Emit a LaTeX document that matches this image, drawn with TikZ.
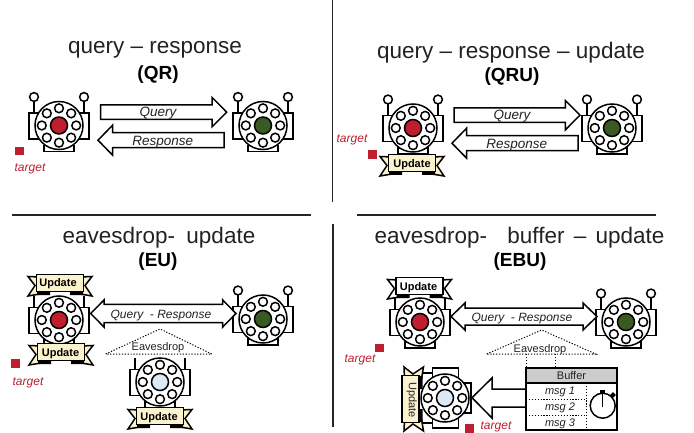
\documentclass[tikz,border=0pt]{standalone}
\usepackage{fontspec}
\setmainfont{Liberation Sans}
\definecolor{tred}{HTML}{BE1E2D}
\definecolor{tgreen}{HTML}{3A5A24}
\definecolor{tblue}{HTML}{DDE9F5}
\definecolor{cream}{HTML}{FBF3CE}
\definecolor{hdr}{HTML}{CCCCCC}
\definecolor{ink}{HTML}{222222}
\tikzset{
  ln/.style={draw=black,line width=1.5pt,line join=miter},
  dots/.style={draw=black,line width=1pt,dash pattern=on 1.2pt off 1.7pt},
  title/.style={font=\fontsize{22.5}{26}\selectfont,text=ink,inner sep=0pt,yshift=-3pt},
  subtitle/.style={font=\fontsize{19}{23}\selectfont\bfseries,text=black,inner sep=0pt,yshift=-2pt},
  lab/.style={font=\fontsize{13.5}{16}\selectfont\itshape,text=ink,inner sep=0pt,yshift=-1.5pt},
  labs/.style={font=\fontsize{12}{14}\selectfont\itshape,text=ink,inner sep=0pt,yshift=-1.5pt},
  small/.style={font=\fontsize{11}{13}\selectfont,text=ink,inner sep=0pt,yshift=-1.5pt},
  upd/.style={font=\fontsize{11}{13}\selectfont\bfseries,text=black,inner sep=0pt,yshift=-1.2pt},
  msg/.style={font=\fontsize{11}{13}\selectfont\itshape,text=ink,inner sep=0pt,yshift=-1pt},
  tgt/.style={font=\fontsize{12}{14}\selectfont\itshape,text=tred,inner sep=0pt,yshift=-2pt},
  sq/.style={fill=tred,draw=none},
  robot/.pic={
    \draw[ln,fill=white] (-30,-12.5) rectangle (30,13.5);
    \draw[ln,fill=white] (-15,20) rectangle (15,26);
    \draw[ln] (-25,-24) -- (-25,-12.5) (25,-24) -- (25,-12.5);
    \draw[ln,fill=white] (0,0) circle (24);
    \foreach \a in {0,45,...,315} \draw[ln,fill=white] (\a:17.2) circle (4.4);
    \draw[ln,fill=#1] (0,0) circle (8.5);
  },
  antennae/.pic={
    \draw[ln,fill=white] (-25,-28.5) circle (4.4);
    \draw[ln,fill=white] (25,-28.5) circle (4.4);
  },
  banner/.pic={
    \draw[ln,fill=#1] (-20,-6) -- (-32,-6.5) -- (-25,2.5) -- (-32,13) -- (-20,11) -- cycle;
    \draw[ln,fill=#1] (20,-6) -- (32,-6.5) -- (25,2.5) -- (32,13) -- (20,11) -- cycle;
    \fill[black] (-23,8) rectangle (-10,12) (23,8) rectangle (10,12);
    \draw[ln,fill=#1] (-23.5,-8.5) rectangle (23.5,8.5);
  },
}
\newcommand{\garrowR}[6]{\draw[ln,fill=white] (#1,#3) -- (#5,#3) -- (#5,#3-7.6) -- (#2,#3/2+#4/2) -- (#5,#4+7.6) -- (#5,#4) -- (#1,#4) -- cycle;}
\newcommand{\garrowD}[7]{\draw[ln,fill=white] (#3,#5) -- (#1,#5/2+#6/2) -- (#3,#6) -- (#3,#6-#7) -- (#4,#6-#7) -- (#4,#6) -- (#2,#5/2+#6/2) -- (#4,#5) -- (#4,#5+#7) -- (#3,#5+#7) -- cycle;}
\begin{document}
\begin{tikzpicture}[x=1pt,y=-1pt]
\path[use as bounding box] (0,0) rectangle (694,433);
% dividers
\coordinate (v1a) at (332.5,0); \coordinate (v1b) at (332.5,202);
\coordinate (v2a) at (333,224); \coordinate (v2b) at (333,427);
\coordinate (h1a) at (12,215); \coordinate (h1b) at (311,215);
\coordinate (h2a) at (357,215); \coordinate (h2b) at (656,215);
\draw[line width=1.2pt,black!85] (v1a)--(v1b) (v2a)--(v2b) (h1a)--(h1b) (h2a)--(h2b);
% titles
\node[title] (t1) at (155,47) {query – response};
\node[subtitle] (s1) at (158,73) {(QR)};
\node[title] (t2) at (511,50) {query – response – update};
\node[subtitle] (s2) at (512,75) {(QRU)};
\node[title] (t3) at (159,235) {eavesdrop-\hspace{5pt} update};
\node[subtitle] (s3) at (158,260) {(EU)};
\node[title] (t4) at (519.5,235) {eavesdrop-\hspace{14pt} buffer\hspace{3pt} –\hspace{3pt} update};
\node[subtitle] (s4) at (520,260) {(EBU)};
% QR
\pic at (59,125.5) {robot=tred}; \pic at (59,125.5) {antennae};
\pic at (263,125.5) {robot=tgreen}; \pic at (263,125.5) {antennae};
\garrowR{100.7}{226.7}{105}{119.3}{212}{}
\garrowR{224}{98}{132.7}{147.7}{112.7}{}
\node[lab] (q1) at (158,112) {Query};
\node[lab] (r1) at (162.7,140.5) {Response};
\fill[sq] (15,146.7) rectangle (24,155);
\node[tgt] (tg1) at (30,167) {target};
% QRU
\pic at (413,128) {robot=tred}; \pic at (413,128) {antennae};
\pic at (612,128) {robot=tgreen}; \pic at (612,128) {antennae};
\pic at (412,163) {banner=cream};
\node[upd] (u2) at (412,163) {Update};
\garrowR{454}{580}{108}{122.3}{565.3}{}
\garrowR{578}{452}{135.7}{150.7}{466.7}{}
\node[lab] (q2) at (512,115) {Query};
\node[lab] (r2) at (516.7,143.5) {Response};
\fill[sq] (367.7,150) rectangle (377,159);
\node[tgt] (tg2) at (352,138) {target};
% EU
\pic at (59,320) {robot=tred};
\pic at (60,283) {banner=cream};
\node[upd] (u3a) at (58,282.5) {Update};
\pic at (61,352) {banner=cream};
\node[upd] (u3b) at (60.5,352) {Update};
\pic at (263,319) {robot=tgreen}; \pic at (263,319) {antennae};
\garrowD{90.7}{236}{104}{222.7}{300}{327}{4.3}
\node[labs] (q3) at (161,313.7) {Query\ \ -\ Response};
\draw[dots] (105.7,354) -- (160,329) -- (211.7,354) -- cycle;
\pic at (160,382) {robot=tblue};
\pic at (160,416) {banner=cream};
\node[upd] (u3c) at (159,416) {Update};
\node[small] (e3) at (158,346) {Eavesdrop};
\fill[sq] (11,359) rectangle (20,368);
\node[tgt] (tg3) at (28,381) {target};
% EBU
\pic at (420,322) {robot=tred};
\pic at (419.5,286) {banner=white};
\node[upd] (u4a) at (418.5,286) {Update};
\pic at (626,322) {robot=tgreen}; \pic at (626,322) {antennae};
\garrowD{451}{597}{465}{583}{303}{330}{5}
\node[labs] (q4) at (522,317) {Query\ \ -\ Response};
\draw[dots] (486.7,354) -- (541.7,330) -- (595.7,354) -- cycle;
\draw[dots] (526.7,354) -- (526.7,368) (555.7,354) -- (555.7,368);
\node[small] (e4) at (540,348) {Eavesdrop};
\pic[rotate=90] at (445,398) {robot=tblue};
\pic[rotate=90] at (410.5,399) {banner=cream};
\node[upd,rotate=-90,yshift=1.2pt,text=ink,font=\fontsize{11}{13}\selectfont] (u4b) at (410.5,399) {Update};
% big arrow
\draw[ln,fill=white] (526,389) -- (492,389) -- (492,378) -- (472,397.7) -- (492,418) -- (492,407) -- (526,407);
% buffer
\node[draw=black,line width=1.2pt,fill=hdr,minimum width=91pt,minimum height=15pt,inner sep=0pt,font=\fontsize{11}{13}\selectfont,text=ink] (buf) at (571.5,375.5) {Buffer};
\draw[ln,fill=white] (526,383) rectangle (617,430);
\draw[dots] (526,399) -- (586.7,399) (526,415) -- (586.7,415) (586.7,383) -- (586.7,430);
\node[msg] (m1) at (560,391) {msg 1};
\node[msg] (m2) at (560,407) {msg 2};
\node[msg] (m3) at (560,423) {msg 3};
\draw[ln] (602.7,405.7) circle (12.5);
\fill[black] (600,390) rectangle (605,394);
\fill[black,rotate around={45:(613,395)}] (611,393) rectangle (615,397);
\draw[ln] (602.7,394) -- (602.7,407);
\fill[sq] (465,424) rectangle (474,432.5);
\node[tgt] (tg4a) at (360,358) {target};
\fill[sq] (375,344) rectangle (384,352);
\node[tgt] (tg4b) at (496,424.5) {target};
\end{tikzpicture}
\end{document}
